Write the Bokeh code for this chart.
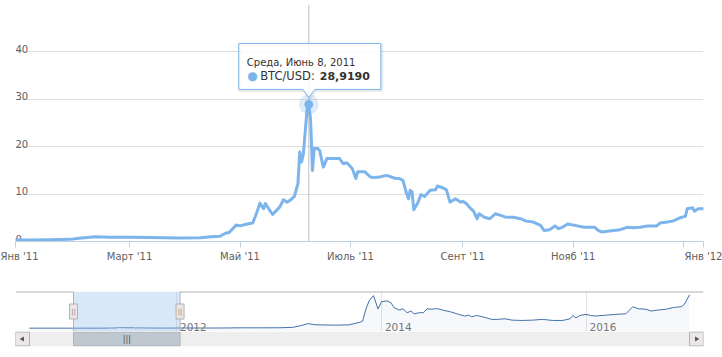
import numpy as np
import pandas as pd
from bokeh.plotting import figure
from bokeh.layouts import column
from bokeh.models import Range1d, FixedTicker, Grid
from bokeh.core.properties import value
from bokeh.embed import file_html
from bokeh.resources import INLINE

# ---------------- data ----------------
dates = [
    "2010-07-24", "2010-09-15", "2010-10-20", "2010-11-06", "2010-11-25", "2010-12-15",
    "2010-12-28", "2011-01-05", "2011-01-16", "2011-01-27", "2011-02-01", "2011-02-10",
    "2011-02-18", "2011-03-01", "2011-03-12", "2011-03-20", "2011-03-29", "2011-04-09",
    "2011-04-15", "2011-04-20", "2011-04-23", "2011-04-25", "2011-04-29", "2011-05-01",
    "2011-05-05", "2011-05-08", "2011-05-10", "2011-05-12", "2011-05-14", "2011-05-15",
    "2011-05-19", "2011-05-23", "2011-05-25", "2011-05-27", "2011-05-29", "2011-05-31",
    "2011-06-02", "2011-06-03", "2011-06-04", "2011-06-05", "2011-06-07", "2011-06-08",
    "2011-06-09", "2011-06-10", "2011-06-11", "2011-06-13", "2011-06-14", "2011-06-16",
    "2011-06-18", "2011-06-22", "2011-06-25", "2011-06-27", "2011-06-29", "2011-07-02",
    "2011-07-04", "2011-07-05", "2011-07-09", "2011-07-12", "2011-07-14", "2011-07-17",
    "2011-07-21", "2011-07-26", "2011-07-28", "2011-07-30", "2011-08-01", "2011-08-02",
    "2011-08-03", "2011-08-04", "2011-08-05", "2011-08-07", "2011-08-09", "2011-08-11",
    "2011-08-14", "2011-08-17", "2011-08-18", "2011-08-21", "2011-08-23", "2011-08-25",
    "2011-08-28", "2011-08-31", "2011-09-01", "2011-09-03", "2011-09-05", "2011-09-07",
    "2011-09-09", "2011-09-10", "2011-09-13", "2011-09-16", "2011-09-19", "2011-09-22",
    "2011-09-25", "2011-09-29", "2011-10-03", "2011-10-06", "2011-10-10", "2011-10-14",
    "2011-10-16", "2011-10-19", "2011-10-22", "2011-10-24", "2011-10-26", "2011-10-29",
    "2011-11-02", "2011-11-07", "2011-11-10", "2011-11-13", "2011-11-15", "2011-11-17",
    "2011-11-21", "2011-11-27", "2011-12-01", "2011-12-04", "2011-12-08", "2011-12-12",
    "2011-12-17", "2011-12-19", "2011-12-23", "2011-12-26", "2011-12-30", "2012-01-02",
    "2012-01-03", "2012-01-06", "2012-01-07", "2012-01-09", "2012-01-12",
    "2012-02-01", "2012-03-01", "2012-05-01", "2012-06-15", "2012-08-15", "2012-09-15",
    "2012-10-15", "2012-12-01", "2013-01-01", "2013-02-17", "2013-03-25", "2013-04-12",
    "2013-05-11", "2013-07-20", "2013-09-06", "2013-10-16", "2013-10-24", "2013-11-04",
    "2013-11-16", "2013-12-02", "2013-12-18", "2013-12-31", "2014-01-19", "2014-02-02",
    "2014-02-13", "2014-03-03", "2014-03-17", "2014-04-01", "2014-04-15", "2014-04-26",
    "2014-05-14", "2014-05-28", "2014-06-12", "2014-06-26", "2014-07-18", "2014-08-09",
    "2014-09-06", "2014-10-02", "2014-10-23", "2014-11-06", "2014-11-17", "2014-12-05",
    "2014-12-30", "2015-01-28", "2015-02-15", "2015-03-16", "2015-04-10", "2015-05-16",
    "2015-06-22", "2015-07-28", "2015-09-02", "2015-10-08", "2015-11-03", "2015-11-13",
    "2015-11-24", "2015-12-08", "2015-12-30", "2016-01-15", "2016-02-02", "2016-03-10",
    "2016-04-14", "2016-05-20", "2016-06-14", "2016-07-03", "2016-07-31", "2016-08-18",
    "2016-09-13", "2016-10-11", "2016-11-05", "2016-12-04", "2016-12-15", "2017-01-02",
]
prices = [
    0.07, 0.06, 0.10, 0.35, 0.28, 0.24,
    0.30, 0.30, 0.35, 0.45, 0.70, 1.00,
    0.90, 0.90, 0.85, 0.80, 0.75, 0.80,
    1.00, 1.10, 1.75, 1.90, 3.50, 3.30,
    3.70, 3.90, 5.80, 8.10, 6.90, 8.00,
    5.70, 7.30, 8.80, 8.30, 8.80, 9.50,
    12.20, 18.90, 16.80, 18.50, 27.70, 28.919,
    25.60, 15.00, 19.60, 19.60, 19.20, 15.70,
    17.50, 17.50, 17.50, 16.40, 16.60, 15.40,
    13.30, 14.70, 14.70, 13.60, 13.50, 13.60,
    13.95, 13.30, 13.30, 12.90, 10.10, 9.00,
    10.80, 10.50, 6.70, 8.00, 9.90, 9.50,
    10.80, 10.90, 11.70, 11.35, 10.90, 8.30,
    9.00, 8.30, 8.50, 8.00, 7.10, 6.40,
    4.80, 5.85, 5.10, 4.80, 5.85, 5.50,
    5.10, 5.10, 4.80, 4.30, 4.10, 3.40,
    2.30, 2.50, 3.30, 2.70, 3.00, 3.70,
    3.40, 3.00, 3.00, 3.00, 2.30, 2.00,
    2.20, 2.50, 3.00, 2.90, 3.00, 3.25,
    3.25, 3.90, 4.10, 4.30, 5.00, 5.30,
    6.90, 7.10, 6.40, 6.90, 6.90,
    5.90, 4.90, 5.00, 6.50, 12.00, 11.50,
    11.80, 12.50, 13.50, 27.0, 100.0, 150.0,
    110.0, 100.0, 110.0, 200.0, 230.0, 600.0,
    900.0, 1075.0, 635.0, 877.0, 900.0, 845.0,
    680.0, 600.0, 640.0, 510.0, 565.0, 475.0,
    510.0, 510.0, 640.0, 625.0, 645.0, 590.0,
    530.0, 455.0, 400.0, 430.0, 375.0, 420.0,
    365.0, 290.0, 290.0, 310.0, 265.0, 255.0,
    265.0, 290.0, 255.0, 255.0, 310.0, 420.0,
    340.0, 420.0, 455.0, 420.0, 400.0, 430.0,
    455.0, 475.0, 710.0, 640.0, 625.0, 565.0,
    600.0, 625.0, 680.0, 710.0, 790.0, 1100.0,
]

series_name = "BTC/USD"
view_range = ["2010-12-28", "2012-01-12"]
y_ticks = [0, 10, 20, 30, 40, 50]
y_labels = ["0", "10", "20", "30", "40"]
x_ticks = ["2010-12-28", "2011-03-01", "2011-05-01", "2011-07-01",
           "2011-09-01", "2011-11-01", "2012-01-01", "2012-01-12"]
x_labels = ["Янв '11", "Март '11", "Май '11", "Июль '11",
            "Сент '11", "Нояб '11", "", "Янв '12"]
nav_ticks = ["2012-01-01", "2014-01-01", "2016-01-01"]
nav_labels = ["2012", "2014", "2016"]
tip_date = "2011-06-08"
tip_value = 28.919
tip_header = "Среда, Июнь 8, 2011"
tip_value_text = "28,9190"


def ms(s):
    return float(pd.Timestamp(s).value // 10**6)


FONT = value("DejaVu Sans")
W = 722
MAIN_H, ML, MR, MT, MB = 270, 15, 19, 4, 29
LINE = "#7cb5ec"
NAVC = "#4572a7"

xd = [ms(d) for d in dates]
x0, x1 = ms(view_range[0]), ms(view_range[1])
y0, y1 = y_ticks[0], y_ticks[-1]

# ---------------- main chart ----------------
p = figure(width=W, height=MAIN_H, x_axis_type="datetime",
           x_range=Range1d(x0, x1), y_range=Range1d(y0, y1),
           y_axis_location=None, output_backend="svg", toolbar_location=None,
           min_border_left=ML, min_border_right=MR, min_border_top=MT, min_border_bottom=MB,
           outline_line_color=None, border_fill_color="white", background_fill_color="white")
for g in p.xgrid:
    g.visible = False
for g in p.ygrid:
    g.visible = False
p.add_layout(Grid(dimension=1, ticker=FixedTicker(ticks=y_ticks), grid_line_color="#dedede"))

xt = [ms(d) for d in x_ticks]
ax = p.xaxis[0]
ax.ticker = FixedTicker(ticks=xt)
ax.major_label_overrides = dict(zip(xt, x_labels))
ax.axis_line_color = "#c0d0e0"
ax.major_tick_line_color = "#c0d0e0"
ax.major_tick_out = 6
ax.major_tick_in = 0
ax.minor_tick_line_color = None
ax.major_label_standoff = 3
ax.major_label_text_font = "DejaVu Sans"
ax.major_label_text_font_size = "10px"
ax.major_label_text_color = "#606060"

p.text(x=[x0] * len(y_labels), y=y_ticks[:len(y_labels)], text=y_labels,
       text_align="left", text_baseline="alphabetic", y_offset=-3,
       text_font=FONT, text_font_size="10px", text_color="#606060")

tx, tv = ms(tip_date), tip_value
# crosshair
p.segment(x0=[tx], y0=[y0], x1=[tx], y1=[y1], line_color="#c0c0c0", line_width=1)
# series
p.line(xd, prices, line_color=LINE, line_width=3, line_join="round")
# hover halo + marker
p.scatter([tx], [tv], size=20, fill_color=LINE, fill_alpha=0.25, line_color=None)
p.scatter([tx], [tv], size=8, fill_color=LINE, line_color=LINE, line_width=1)

# tooltip
FW = W - ML - MR
FH = MAIN_H - MT - MB
mpx = (x1 - x0) / FW
vpx = (y1 - y0) / FH
box = [(-70, 61), (72, 61), (72, 15), (6, 15), (0, 7), (-6, 15), (-70, 15)]
p.patch([tx + (dx + 1) * mpx for dx, dy in box], [tv + (dy - 1) * vpx for dx, dy in box],
        fill_alpha=0, line_color="black", line_alpha=0.08, line_width=3)
p.patch([tx + dx * mpx for dx, dy in box], [tv + dy * vpx for dx, dy in box],
        fill_color="white", fill_alpha=0.85, line_color=LINE, line_width=1)
p.text(x=[tx], y=[tv], text=[tip_header], x_offset=-62, y_offset=-42,
       text_font=FONT, text_font_size="10px", text_color="#333333",
       text_align="left", text_baseline="alphabetic")
p.text(x=[tx], y=[tv], text=["●"], x_offset=-61.5, y_offset=-28,
       text_font=FONT, text_font_size="12px", text_color=LINE,
       text_align="left", text_baseline="alphabetic")
p.text(x=[tx], y=[tv], text=[series_name + ":"], x_offset=-48.6, y_offset=-28,
       text_font=FONT, text_font_size="11.5px", text_color="#333333",
       text_align="left", text_baseline="alphabetic")
p.text(x=[tx], y=[tv], text=[tip_value_text], x_offset=11, y_offset=-28,
       text_font=FONT, text_font_size="11px", text_font_style="bold", text_color="#333333",
       text_align="left", text_baseline="alphabetic")

# ---------------- navigator ----------------
NAV_H, NT = 61, 21
BTN = 14
nav_first, nav_last = xd[0], xd[-1]
npx = (nav_last - nav_first) / (FW - 2 * BTN)
nx0, nx1 = nav_first - BTN * npx, nav_last + BTN * npx
vmin, vmax = min(prices), max(prices)
pad = 0.1 * (vmax - vmin)
ny0, ny1 = vmin - pad, vmax + pad

n = figure(width=W, height=NAV_H, x_axis_type="datetime",
           x_range=Range1d(nx0, nx1), y_range=Range1d(ny0, ny1),
           x_axis_location=None, y_axis_location=None,
           output_backend="svg", toolbar_location=None,
           min_border_left=ML, min_border_right=MR, min_border_top=NT, min_border_bottom=0,
           outline_line_color=None, border_fill_color="white", background_fill_color="white")
for g in list(n.xgrid) + list(n.ygrid):
    g.visible = False
nt = [ms(d) for d in nav_ticks]
n.add_layout(Grid(dimension=0, ticker=FixedTicker(ticks=nt), grid_line_color="#e6e6e6"))

n.varea(x=xd, y1=[ny0] * len(xd), y2=prices, fill_color=NAVC, fill_alpha=0.05)
n.line(xd, prices, line_color=NAVC, line_width=1)
n.quad(left=[x0], right=[x1], bottom=[ny0], top=[ny1],
       fill_color="#80b3ec", fill_alpha=0.3, line_color=None)
n.text(x=nt, y=[ny0] * len(nt), text=nav_labels, x_offset=3, y_offset=-5,
       text_align="left", text_baseline="alphabetic",
       text_font=FONT, text_font_size="10.5px", text_color="#777777")
# outline
n.multi_line(xs=[[nx0, x0], [x1, nx1]], ys=[[ny1, ny1], [ny1, ny1]],
             line_color="#b2b1b6", line_width=2)
n.multi_line(xs=[[x0, x0], [x1, x1]], ys=[[ny0, ny1], [ny0, ny1]],
             line_color="#b2b1b6", line_width=1)
# handles
ymid = (ny0 + ny1) / 2
n.rect(x=[x0, x1], y=[ymid, ymid], width=8, height=15,
       width_units="screen", height_units="screen",
       fill_color="#ebe7e8", line_color="#b2b1b6", line_width=1)
n.text(x=[x0, x1], y=[ymid, ymid], text=["||", "||"], text_align="center",
       text_baseline="middle", text_font=FONT, text_font_size="7px", text_color="#8a8a8a")

# ---------------- scrollbar ----------------
SC_H, SB = 26, 11
s = figure(width=W, height=SC_H, x_range=n.x_range, y_range=Range1d(0, 1),
           x_axis_location=None, y_axis_location=None,
           output_backend="svg", toolbar_location=None,
           min_border_left=ML, min_border_right=MR, min_border_top=0, min_border_bottom=SB,
           outline_line_color=None, border_fill_color="white", background_fill_color="white")
for g in list(s.xgrid) + list(s.ygrid):
    g.visible = False
inset = 0.5 / (SC_H - SB)
s.quad(left=[nx0], right=[nx1], bottom=[0], top=[1], fill_color="#eeeeee", line_color=None)
s.quad(left=[nx0, nav_last], right=[nav_first, nx1], bottom=[inset] * 2, top=[1 - inset] * 2,
       fill_color="#ebe7e8", line_color="#b2b1b6", line_width=1)
s.scatter(x=[(nx0 + nav_first) / 2], y=[0.5], marker="triangle", angle=np.pi / 2,
          size=5, fill_color="#555555", line_color=None)
s.scatter(x=[(nav_last + nx1) / 2], y=[0.5], marker="triangle", angle=-np.pi / 2,
          size=5, fill_color="#555555", line_color=None)
s.quad(left=[x0], right=[x1], bottom=[inset], top=[1 - inset],
       fill_color="#bfc8d1", line_color="#b2b1b6", line_width=1)
s.text(x=[(x0 + x1) / 2], y=[0.5], text=["|||"], text_align="center", text_baseline="middle",
       text_font=FONT, text_font_size="8px", text_color="#444444")

layout = column(p, n, s, spacing=0)
open("out.html", "w").write(file_html(layout, INLINE))
